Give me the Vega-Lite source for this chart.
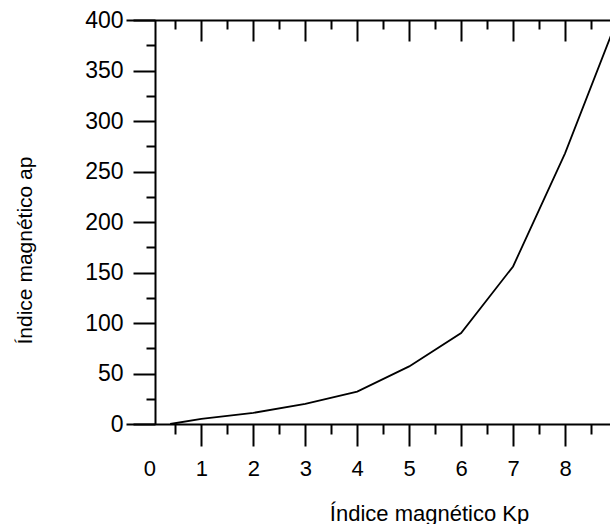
{
  "$schema": "https://vega.github.io/schema/vega-lite/v6.json",
  "autosize": "none",
  "padding": {"left": 126, "top": 20, "right": 0, "bottom": 100},
  "width": 491,
  "height": 404,
  "background": "white",
  "config": {
    "view": {"stroke": null},
    "font": "Liberation Sans",
    "axis": {"domainColor": "black", "tickColor": "black", "labelColor": "black", "titleColor": "black", "grid": false, "domainWidth": 2, "tickWidth": 2, "labelFont": "Liberation Sans", "titleFont": "Liberation Sans", "titleFontWeight": "normal"}
  },
  "data": {"values": [
    {"kp": 0.4, "ap": 0},
    {"kp": 1, "ap": 5},
    {"kp": 2, "ap": 11},
    {"kp": 3, "ap": 20},
    {"kp": 4, "ap": 32},
    {"kp": 5, "ap": 57},
    {"kp": 6, "ap": 90},
    {"kp": 7, "ap": 156},
    {"kp": 8, "ap": 268},
    {"kp": 9, "ap": 400}
  ]},
  "layer": [
    {
      "mark": {"type": "line", "color": "black", "strokeWidth": 1.8},
      "encoding": {
        "x": {"field": "kp", "type": "quantitative", "scale": {"domain": [-0.45, 9], "nice": false, "zero": false},
          "axis": {"orient": "bottom", "values": [0,1,2,3,4,5,6,7,8], "tickSize": 22, "tickOpacity": {"condition": {"test": "datum.value === 0", "value": 0}, "value": 1}, "labelFontSize": 22, "labelPadding": 12, "labelFlush": false,
            "title": "Índice magnético Kp", "titleFontSize": 22, "titleX": 303, "titleY": 96, "titleBaseline": "alphabetic", "titleAlign": "center", "titleAngle": 0}},
        "y": {"field": "ap", "type": "quantitative", "scale": {"domain": [0, 400], "nice": false},
          "axis": {"orient": "left", "offset": -29, "values": [0,50,100,150,200,250,300,350,400], "tickSize": 22, "labelFontSize": 23, "labelPadding": 10, "labelFlush": false,
            "title": "Índice magnético ap", "titleFontSize": 21, "titleX": -124, "titleY": 230, "titleBaseline": "alphabetic", "titleAlign": "center", "titleAngle": -90}}
      }
    },
    {
      "mark": {"type": "point", "opacity": 0},
      "encoding": {
        "x": {"field": "kp", "type": "quantitative",
          "axis": {"orient": "bottom", "values": [0.5,1.5,2.5,3.5,4.5,5.5,6.5,7.5,8.5], "tickSize": 10, "labels": false, "domain": false, "title": null}},
        "y": {"field": "ap", "type": "quantitative",
          "axis": {"orient": "left", "offset": -29, "values": [25,75,125,175,225,275,325,375], "tickSize": 9, "labels": false, "domain": false, "title": null}}
      }
    },
    {
      "mark": {"type": "point", "opacity": 0},
      "encoding": {
        "x": {"field": "kp", "type": "quantitative",
          "axis": {"orient": "top", "values": [1,2,3,4,5,6,7,8], "tickSize": -21, "labels": false, "domain": true, "title": null}},
        "y": {"field": "ap", "type": "quantitative", "axis": null}
      }
    },
    {
      "mark": {"type": "point", "opacity": 0},
      "encoding": {
        "x": {"field": "kp", "type": "quantitative",
          "axis": {"orient": "top", "values": [0.5,1.5,2.5,3.5,4.5,5.5,6.5,7.5,8.5], "tickSize": -9, "labels": false, "domain": false, "title": null}},
        "y": {"field": "ap", "type": "quantitative", "axis": null}
      }
    }
  ],
  "resolve": {"axis": {"x": "independent", "y": "independent"}}
}
